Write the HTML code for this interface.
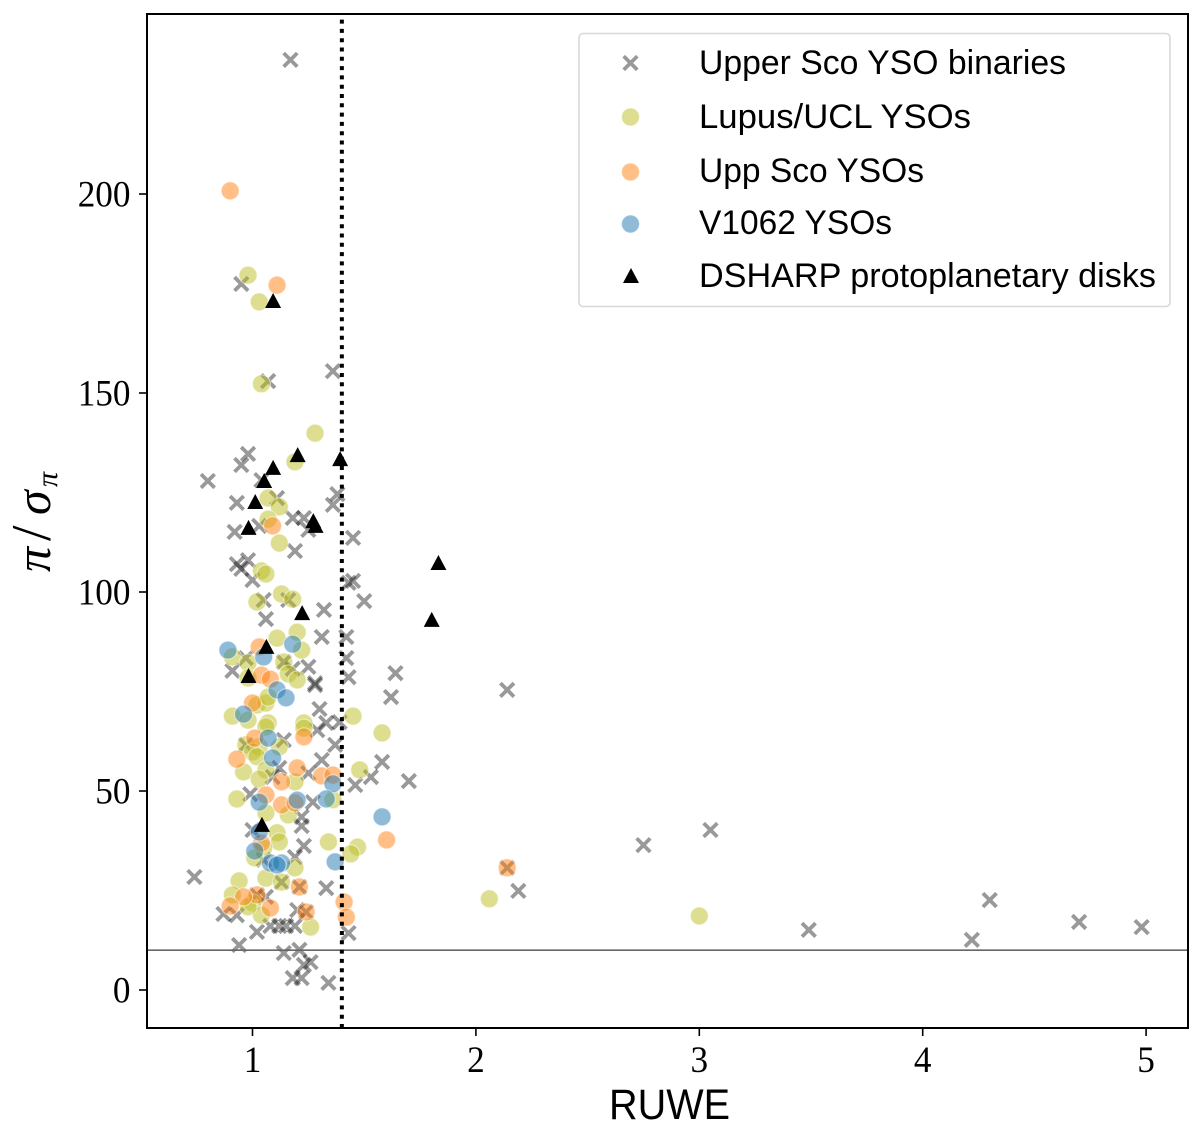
<!DOCTYPE html>
<html lang="en">
<head>
<meta charset="utf-8">
<title>RUWE vs parallax significance</title>
<style>
html,body{margin:0;padding:0;background:#fff;width:1200px;height:1127px;overflow:hidden}
svg{display:block}
text{fill:#000}
.tick{font-family:"Liberation Serif",serif;font-size:37px}
.leg{font-family:"Liberation Sans",sans-serif;font-size:34px}
</style>
</head>
<body>
<svg id="chart" xmlns="http://www.w3.org/2000/svg" width="1200" height="1127" viewBox="0 0 1200 1127">
  <rect x="147" y="14" width="1041" height="1014" fill="#fff"/>
  <g id="marks"></g>
  <line id="hline" stroke="#666" stroke-width="1.6"/>
  <line id="vline" stroke="#000" stroke-width="4" stroke-dasharray="4 5.3"/>
  <rect x="147" y="14" width="1041" height="1014" fill="none" stroke="#000" stroke-width="2"/>
  <g id="axes"></g>
  <text x="609" y="1119" font-family="'Liberation Sans',sans-serif" font-size="43" textLength="121" lengthAdjust="spacingAndGlyphs">RUWE</text>
  <text transform="translate(50,520) rotate(-90)" font-family="'Liberation Serif',serif" font-size="50" font-style="italic"><tspan x="-52" y="0">π</tspan><tspan x="-21" y="0" font-style="normal" font-size="56">/</tspan><tspan x="5" y="0">σ</tspan><tspan x="33" y="7" font-size="30">π</tspan></text>

  <g>
    <rect x="579" y="33.5" width="591" height="273" rx="4" fill="#fff" fill-opacity="0.8" stroke="#d8d8d8" stroke-width="1.6"/>
    <g id="legend-markers"></g>
    <text class="leg" x="699" y="74" textLength="367" lengthAdjust="spacingAndGlyphs">Upper Sco YSO binaries</text>
    <text class="leg" x="699" y="128" textLength="272" lengthAdjust="spacingAndGlyphs">Lupus/UCL YSOs</text>
    <text class="leg" x="699" y="182" textLength="225" lengthAdjust="spacingAndGlyphs">Upp Sco YSOs</text>
    <text class="leg" x="699" y="234" textLength="193" lengthAdjust="spacingAndGlyphs">V1062 YSOs</text>
    <text class="leg" x="699" y="287" textLength="457" lengthAdjust="spacingAndGlyphs">DSHARP protoplanetary disks</text>
  </g>
</svg>
<script>
const xTickValues = [1, 2, 3, 4, 5];
const yTickValues = [0, 50, 100, 150, 200];
const ruweLimit = [1.4];
const parallaxLimit = [10];

const binariesRuwe = [1.17,0.95,1.07,1.36,0.98,0.95,0.80,1.04,1.11,0.93,1.38,1.36,1.18,1.23,1.25,1.03,0.92,1.45,1.19,0.98,0.93,0.95,1.00,1.45,1.43,1.50,1.05,1.16,1.32,1.06,1.31,1.42,0.97,1.14,1.42,1.18,1.25,0.91,1.43,1.64,1.28,1.28,1.62,1.30,1.33,1.39,1.29,1.14,1.37,1.31,1.58,1.53,1.70,1.46,1.25,1.12,1.09,0.99,1.27,0.97,1.22,1.00,1.22,1.23,1.19,1.05,0.74,1.33,1.13,1.21,1.02,1.06,1.20,1.24,0.87,0.93,1.08,1.12,1.19,1.15,1.02,1.43,0.94,1.14,1.21,1.26,1.23,1.18,1.22,1.34,2.14,2.75,3.05,2.19,2.14,3.49,4.30,4.22,4.70,4.98];
const binariesParallaxSnr = [233.7,177.4,153.0,155.5,134.7,131.9,127.9,128.1,123.6,122.4,124.6,121.9,118.6,118.6,115.6,116.6,115.1,113.6,110.3,108.0,107.0,105.8,103.0,102.8,102.3,97.7,98.0,98.0,95.5,93.2,88.7,88.7,83.4,82.4,83.4,80.7,81.2,80.2,78.6,79.6,77.1,76.6,73.6,70.6,67.1,67.3,65.3,62.8,61.6,57.8,57.3,53.5,52.5,51.5,54.5,55.8,53.5,49.2,47.2,61.6,43.5,40.2,41.2,36.2,33.4,32.7,28.4,25.6,27.1,25.9,23.9,23.4,20.1,19.6,19.1,18.8,16.1,16.1,16.1,16.1,14.6,14.3,11.3,9.3,10.1,7.0,6.3,3.0,3.0,1.8,75.4,36.4,40.2,24.9,30.7,15.1,22.6,12.6,17.1,15.8];

const lupusRuwe = [0.98,1.03,1.04,1.28,1.19,1.07,1.12,1.07,1.12,1.04,1.06,1.13,1.18,1.02,1.20,1.11,1.22,0.91,0.98,1.14,1.16,1.20,0.98,0.91,0.98,1.02,1.06,1.07,1.07,1.06,1.23,1.23,0.97,1.03,1.12,1.00,1.02,0.96,1.06,1.03,1.19,0.93,1.06,1.16,1.45,1.58,1.48,1.36,1.11,1.12,1.34,1.47,1.44,1.05,1.01,1.19,1.06,1.13,0.94,0.91,1.00,1.04,1.26,0.98,2.06,3.00];
const lupusParallaxSnr = [179.6,172.9,152.3,139.9,132.7,123.6,121.4,118.3,112.3,105.3,104.5,99.5,98.2,97.5,89.9,88.4,85.4,83.7,82.2,82.4,79.4,77.9,78.4,68.8,67.8,71.6,72.1,73.6,67.1,66.1,67.1,65.8,61.6,61.1,61.1,59.8,58.6,54.8,55.3,53.0,52.3,48.0,44.5,44.0,68.8,64.6,55.3,47.8,39.5,37.2,37.2,35.9,34.2,35.7,33.2,30.7,28.1,27.1,27.4,23.9,21.9,18.8,15.8,20.9,22.9,18.6];

const uppScoRuwe = [0.90,1.11,1.09,1.03,1.04,1.08,1.00,1.23,1.01,0.93,1.20,1.13,1.06,1.31,1.36,1.13,1.19,1.04,1.60,1.21,1.02,0.96,0.90,1.08,1.24,1.41,1.42,2.14];
const uppScoParallaxSnr = [200.8,177.1,116.6,86.2,79.1,78.1,72.1,63.6,63.3,58.0,55.8,52.3,49.0,53.8,54.0,46.5,47.0,36.9,37.7,25.9,23.9,23.4,21.1,20.6,19.6,22.1,18.3,30.7];

const v1062Ruwe = [0.89,1.18,1.05,1.11,1.15,0.96,1.07,1.09,1.36,1.03,1.20,1.33,1.58,1.03,1.01,1.08,1.13,1.11,1.37];
const v1062ParallaxSnr = [85.4,86.9,83.7,75.4,73.4,69.3,63.3,58.3,51.8,47.2,47.7,48.0,43.5,39.7,34.9,31.9,31.9,31.4,32.2];

const dsharpRuwe = [1.09,1.20,1.39,1.09,1.05,1.01,0.98,1.27,1.28,1.83,1.22,1.80,1.06,0.98,1.04];
const dsharpParallaxSnr = [173.1,134.4,133.4,131.2,127.9,122.6,116.1,117.8,116.6,107.3,94.7,93.0,86.2,78.9,41.5];

const SVG_NS = 'http://www.w3.org/2000/svg';
function xScale(v){ return 252.5 + (v - 1) * 223.4; }
function yScale(v){ return 990 - v * 3.98; }

function make(tag, parent, attrs){
  const el = document.createElementNS(SVG_NS, tag);
  for (const k in attrs) el.setAttribute(k, attrs[k]);
  parent.appendChild(el);
  return el;
}
function drawCross(parent, cx, cy){
  const h = 6.8;
  const el = make('path', parent, {
    d: 'M' + (cx-h) + ' ' + (cy-h) + 'L' + (cx+h) + ' ' + (cy+h) + 'M' + (cx-h) + ' ' + (cy+h) + 'L' + (cx+h) + ' ' + (cy-h),
    stroke: '#000', 'stroke-opacity': 0.4, 'stroke-width': 3.8, fill: 'none'
  });
  return el;
}
function drawCircle(parent, cx, cy, color){
  const el = make('circle', parent, {
    cx: cx, cy: cy, r: 9, fill: color, 'fill-opacity': 0.5, stroke: '#fff', 'stroke-opacity': 0.5, 'stroke-width': 1.2
  });
  return el;
}
function drawTriangle(parent, cx, cy){
  const el = make('polygon', parent, {
    points: (cx+0.5) + ',' + (cy-8) + ' ' + (cx+8.5) + ',' + (cy+7) + ' ' + (cx-7.5) + ',' + (cy+7),
    fill: '#000'
  });
  return el;
}

const marks = document.getElementById('marks');
binariesRuwe.forEach(function(v, i){
  const el = drawCross(marks, xScale(v), yScale(binariesParallaxSnr[i]));
  
  
});
lupusRuwe.forEach(function(v, i){
  const el = drawCircle(marks, xScale(v), yScale(lupusParallaxSnr[i]), '#bcbd22');
  
  
});
uppScoRuwe.forEach(function(v, i){
  const el = drawCircle(marks, xScale(v), yScale(uppScoParallaxSnr[i]), '#ff7f0e');
  
  
});
v1062Ruwe.forEach(function(v, i){
  const el = drawCircle(marks, xScale(v), yScale(v1062ParallaxSnr[i]), '#1f77b4');
  
  
});
dsharpRuwe.forEach(function(v, i){
  const el = drawTriangle(marks, xScale(v), yScale(dsharpParallaxSnr[i]));
  
  
});

const hline = document.getElementById('hline');
hline.setAttribute('x1', 147);
hline.setAttribute('x2', 1188);
hline.setAttribute('y1', yScale(parallaxLimit[0]));
hline.setAttribute('y2', yScale(parallaxLimit[0]));
const vline = document.getElementById('vline');
vline.setAttribute('x1', xScale(ruweLimit[0]));
vline.setAttribute('x2', xScale(ruweLimit[0]));
vline.setAttribute('y1', 1028);
vline.setAttribute('y2', 14);

const axes = document.getElementById('axes');
xTickValues.forEach(function(v){
  const t = make('line', axes, {x1: xScale(v), x2: xScale(v), y1: 1028, y2: 1036, stroke: '#000', 'stroke-width': 1.6});
  
  
  const l = make('text', axes, {x: xScale(v), y: 1072, 'text-anchor': 'middle', class: 'tick', textLength: 17.6, lengthAdjust: 'spacingAndGlyphs'});
  
  
  l.textContent = v;
});
yTickValues.forEach(function(v){
  const t = make('line', axes, {x1: 139, x2: 147, y1: yScale(v), y2: yScale(v), stroke: '#000', 'stroke-width': 1.6});
  
  
  const l = make('text', axes, {x: 130.5, y: yScale(v) + 12.5, 'text-anchor': 'end', class: 'tick', textLength: 17.6 * String(v).length, lengthAdjust: 'spacingAndGlyphs'});
  
  
  l.textContent = v;
});

const legendMarkers = document.getElementById('legend-markers');
const lm1 = drawCross(legendMarkers, 630.5, 63);


const lm2 = drawCircle(legendMarkers, 630.5, 117, '#bcbd22');


const lm3 = drawCircle(legendMarkers, 630.5, 172, '#ff7f0e');


const lm4 = drawCircle(legendMarkers, 630.5, 224, '#1f77b4');


const lm5 = drawTriangle(legendMarkers, 630.5, 276);


</script>
</body>
</html>
